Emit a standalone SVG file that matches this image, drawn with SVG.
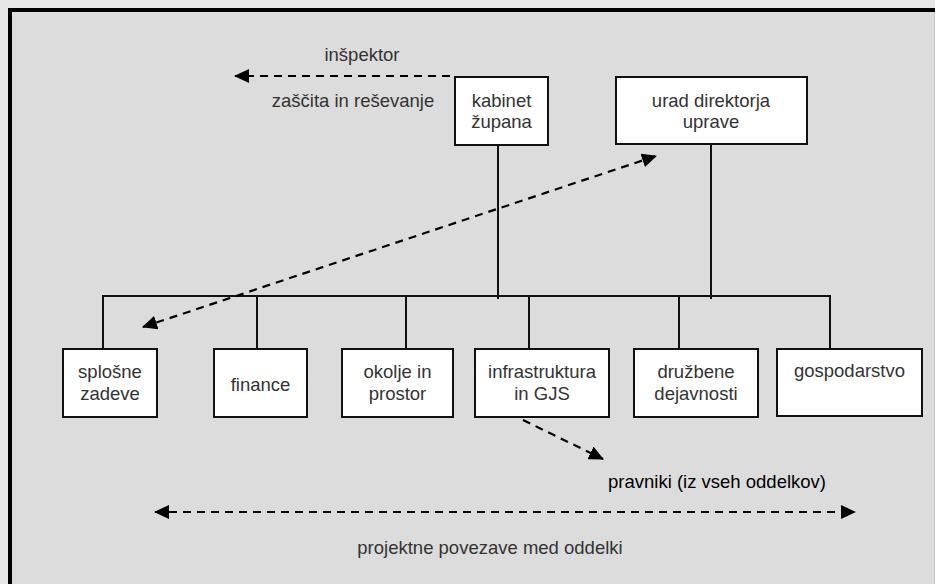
<svg xmlns="http://www.w3.org/2000/svg" width="935" height="584" viewBox="0 0 935 584">
<defs>
<style>
.box{fill:#fff;stroke:#111;stroke-width:2}
.t{font-family:"Liberation Sans",Arial,sans-serif;font-size:18.5px;fill:#333;text-anchor:middle}
.ln{stroke:#111;stroke-width:2;fill:none}
.dash{stroke:#000;stroke-width:2.2;fill:none;stroke-dasharray:8 6}
</style>
<marker id="ah" markerUnits="userSpaceOnUse" markerWidth="16" markerHeight="14" refX="14" refY="7" orient="auto-start-reverse" viewBox="0 0 16 14">
<path d="M0,0 L15,7 L0,14 Z" fill="#000"/>
</marker>
</defs>
<rect x="0" y="0" width="935" height="584" fill="#e6e6e6"/>
<rect x="10" y="10" width="924" height="574" fill="#dcdcdc"/>
<line x1="8" y1="10" x2="935" y2="10" stroke="#000" stroke-width="4"/>
<line x1="10" y1="8" x2="10" y2="584" stroke="#000" stroke-width="4"/>
<line x1="934.5" y1="12" x2="934.5" y2="584" stroke="#c4c4c4" stroke-width="1"/>

<g id="connectors">
<line class="ln" x1="498" y1="145" x2="498" y2="299"/>
<line class="ln" x1="711" y1="145" x2="711" y2="299"/>
<line class="ln" x1="102" y1="296" x2="831" y2="296"/>
<line class="ln" x1="103" y1="296" x2="103" y2="349"/>
<line class="ln" x1="257" y1="296" x2="257" y2="349"/>
<line class="ln" x1="406" y1="296" x2="406" y2="349"/>
<line class="ln" x1="529" y1="296" x2="529" y2="349"/>
<line class="ln" x1="679" y1="296" x2="679" y2="349"/>
<line class="ln" x1="830" y1="296" x2="830" y2="349"/>
<line class="dash" x1="450" y1="76" x2="235" y2="76" marker-end="url(#ah)"/>
<line class="dash" x1="143" y1="327" x2="656" y2="156" marker-start="url(#ah)" marker-end="url(#ah)"/>
<line class="dash" x1="523" y1="420" x2="603" y2="459" marker-end="url(#ah)"/>
<line class="dash" x1="155" y1="512" x2="855" y2="512" marker-start="url(#ah)" marker-end="url(#ah)"/>
</g>

<g id="label-inspektor"><text class="t" x="362" y="61">inšpektor</text></g>
<g id="label-zascita"><text class="t" x="353" y="107">zaščita in reševanje</text></g>

<g id="kabinet">
<rect class="box" x="455" y="77" width="93" height="68"/>
<text class="t" x="501.5" y="107">kabinet</text>
<text class="t" x="501.5" y="128">župana</text>
</g>
<g id="urad">
<rect class="box" x="616" y="77" width="191" height="67"/>
<text class="t" x="711" y="107">urad direktorja</text>
<text class="t" x="711" y="128">uprave</text>
</g>

<g id="splosne">
<rect class="box" x="63" y="349" width="94" height="68"/>
<text class="t" x="110" y="378">splošne</text>
<text class="t" x="110" y="400">zadeve</text>
</g>
<g id="finance">
<rect class="box" x="214" y="349" width="93" height="68"/>
<text class="t" x="260.5" y="391">finance</text>
</g>
<g id="okolje">
<rect class="box" x="342" y="349" width="111" height="68"/>
<text class="t" x="397.5" y="378">okolje in</text>
<text class="t" x="397.5" y="400">prostor</text>
</g>
<g id="infrastruktura">
<rect class="box" x="475" y="349" width="134" height="68"/>
<text class="t" x="542" y="378">infrastruktura</text>
<text class="t" x="542" y="400">in GJS</text>
</g>
<g id="druzbene">
<rect class="box" x="634" y="349" width="124" height="68"/>
<text class="t" x="696" y="378">družbene</text>
<text class="t" x="696" y="400">dejavnosti</text>
</g>
<g id="gospodarstvo">
<rect class="box" x="777" y="349" width="145" height="67"/>
<text class="t" x="849.5" y="377">gospodarstvo</text>
</g>

<g id="label-pravniki"><text class="t" x="717" y="488" style="fill:#000">pravniki (iz vseh oddelkov)</text></g>
<g id="label-projektne"><text class="t" x="490" y="554">projektne povezave med oddelki</text></g>
</svg>
